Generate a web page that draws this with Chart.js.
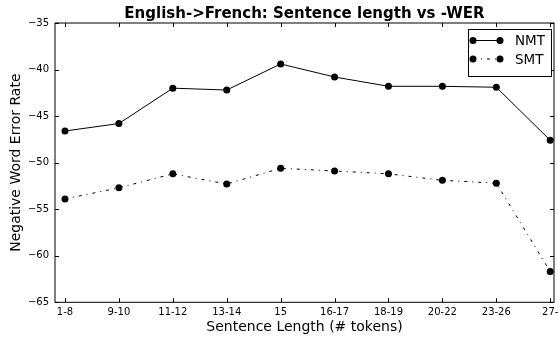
<!DOCTYPE html>
<html>
<head>
<meta charset="utf-8">
<script src="https://cdn.jsdelivr.net/npm/chart.js@4.4.1/dist/chart.umd.min.js"></script>
<style>
  html,body{margin:0;padding:0;background:#fff}
  #wrap{width:558px;height:339px}
</style>
</head>
<body>
<div id="wrap"><canvas id="ch-wer"></canvas></div>
<script>
// sentence length buckets and -WER per system
const buckets=['1-8','9-10','11-12','13-14','15','16-17','18-19','20-22','23-26','27-'];
const nmt=[-46.6,-45.8,-42.0,-42.2,-39.4,-40.8,-41.8,-41.8,-41.9,-47.6];
const smt=[-53.9,-52.7,-51.2,-52.3,-50.6,-50.9,-51.2,-51.9,-52.2,-61.7];
const yTicks=[-65,-60,-55,-50,-45,-40,-35];

const FONT='"DejaVu Sans", sans-serif';
const SMT_DASH=[3,5,1,5];

// title, box, inward ticks and legend like the old matplotlib look
const frame={
  id:'frame',
  afterDatasetsDraw(chart){
    const {ctx,chartArea:a,scales:{x,y}}=chart;
    ctx.save();
    ctx.strokeStyle='#000';ctx.lineWidth=1;
    ctx.strokeRect(a.left,a.top,a.right-a.left,a.bottom-a.top);
    ctx.beginPath();
    x.ticks.forEach(t=>{
      const px=Math.round(x.getPixelForValue(t.value))+0.5;
      ctx.moveTo(px,a.bottom);ctx.lineTo(px,a.bottom-4);
      ctx.moveTo(px,a.top);ctx.lineTo(px,a.top+4);
    });
    y.ticks.forEach(t=>{
      const py=Math.round(y.getPixelForValue(t.value))+0.5;
      ctx.moveTo(a.left,py);ctx.lineTo(a.left+4,py);
      ctx.moveTo(a.right,py);ctx.lineTo(a.right-4,py);
    });
    ctx.stroke();

    // title
    ctx.fillStyle='#000';
    ctx.font='bold 15px '+FONT;
    ctx.textAlign='center';ctx.textBaseline='alphabetic';
    ctx.fillText('English->French: Sentence length vs -WER',(a.left+a.right)/2,17.5);

    // legend
    const lx=468.5,ly=29.5,lw=83,lh=47;
    ctx.fillStyle='#fff';ctx.fillRect(lx,ly,lw,lh);
    ctx.strokeRect(lx,ly,lw,lh);
    const rows=[{label:'NMT',dash:[]},{label:'SMT',dash:SMT_DASH}];
    rows.forEach((r,i)=>{
      const cy=40.5+i*18.5;
      ctx.setLineDash(r.dash);
      ctx.beginPath();ctx.moveTo(473,cy);ctx.lineTo(500,cy);ctx.stroke();
      ctx.setLineDash([]);
      ctx.fillStyle='#000';
      [473,500].forEach(mx=>{ctx.beginPath();ctx.arc(mx,cy,3.5,0,Math.PI*2);ctx.fill();});
      ctx.font='13.5px '+FONT;
      ctx.textAlign='left';ctx.textBaseline='middle';
      ctx.fillText(r.label,515,cy+1);
    });
    ctx.restore();
  }
};

const el=document.getElementById('ch-wer');
el._ch=new Chart(el,{
  type:'line',
  data:{datasets:[
    {label:'NMT',data:nmt.map((v,i)=>({x:i,y:v})),
      borderColor:'#000',backgroundColor:'#000',borderWidth:1,
      pointRadius:3.5,pointBackgroundColor:'#000',pointBorderWidth:0,tension:0},
    {label:'SMT',data:smt.map((v,i)=>({x:i,y:v})),
      borderColor:'#000',backgroundColor:'#000',borderWidth:1,borderDash:SMT_DASH,
      pointRadius:3.5,pointBackgroundColor:'#000',pointBorderWidth:0,tension:0}
  ]},
  options:{
    responsive:true,maintainAspectRatio:false,animation:false,
    clip:false,
    layout:{padding:{top:23,right:1,left:0,bottom:0}},
    plugins:{legend:{display:false},tooltip:{enabled:false},title:{display:false}},
    scales:{
      x:{type:'linear',min:-0.185,max:9.07,
        grid:{display:false,drawTicks:false},border:{display:false},
        afterBuildTicks:s=>{s.ticks=buckets.map((b,i)=>({value:i}));},
        afterFit:s=>{s.height=36.7;s.paddingLeft=0;s.paddingRight=0;},
        ticks:{color:'#000',font:{family:FONT,size:10},padding:4,maxRotation:0,autoSkip:false,
          callback:v=>buckets[v]},
        title:{display:true,text:'Sentence Length (# tokens)',color:'#000',
          font:{family:FONT,size:14},padding:{top:0,bottom:3}}},
      y:{min:-65,max:-35,
        grid:{display:false,drawTicks:false},border:{display:false},
        afterBuildTicks:s=>{s.ticks=yTicks.map(v=>({value:v}));},
        afterFit:s=>{s.width=55;s.paddingTop=0;s.paddingBottom=0;},
        ticks:{color:'#000',font:{family:FONT,size:10},padding:6,
          callback:v=>'\u2212'+Math.abs(v)},
        title:{display:true,text:'Negative Word Error Rate',color:'#000',
          font:{family:FONT,size:14},padding:{top:8,bottom:0}}}
    }
  },
  plugins:[frame]
});
</script>
</body>
</html>
